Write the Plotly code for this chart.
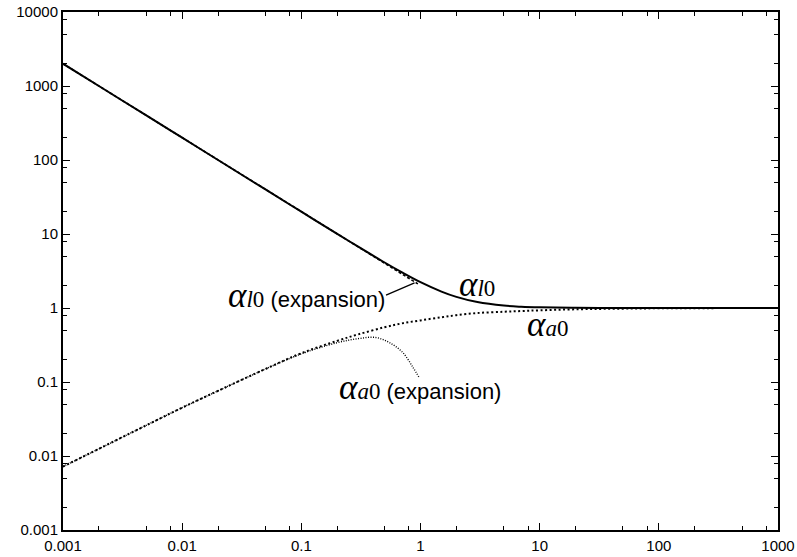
import plotly.graph_objects as go

# ---- data ----
x_main = [0.001, 0.002, 0.005, 0.01, 0.02, 0.05, 0.1, 0.2, 0.3, 0.5, 0.7, 1, 1.5, 2, 3, 5, 7, 10, 20, 50, 100, 1000]
alpha_l0 = [2000, 1000, 400, 200, 100, 40.0, 20.0, 10.05, 6.74, 4.12, 3.03, 2.236, 1.667, 1.414, 1.202, 1.077, 1.040, 1.020, 1.005, 1.001, 1.0002, 1.0]
alpha_a0 = [0.0072, 0.0125, 0.026, 0.045, 0.076, 0.15, 0.245, 0.36, 0.44, 0.55, 0.62, 0.68, 0.75, 0.80, 0.855, 0.89, 0.91, 0.93, 0.96, 0.98, 0.99, 1.0]

x_l0_exp = [0.001, 0.002, 0.005, 0.01, 0.02, 0.05, 0.1, 0.2, 0.3, 0.5, 0.7, 0.85, 0.95]
alpha_l0_exp = [2000, 1000, 400, 200, 100, 40.0, 20.0, 10.0, 6.68, 4.02, 2.88, 2.38, 2.12]

x_a0_exp = [0.001, 0.002, 0.005, 0.01, 0.02, 0.05, 0.1, 0.2, 0.3, 0.42, 0.55, 0.71, 0.86, 0.98]
alpha_a0_exp = [0.0072, 0.0125, 0.026, 0.045, 0.076, 0.15, 0.24, 0.34, 0.385, 0.40, 0.34, 0.25, 0.16, 0.113]

tick_vals = [0.001, 0.01, 0.1, 1, 10, 100, 1000]
tick_text = ["0.001", "0.01", "0.1", "1", "10", "100", "1000"]
ytick_vals = [0.001, 0.01, 0.1, 1, 10, 100, 1000, 10000]
ytick_text = ["0.001", "0.01", "0.1", "1", "10", "100", "1000", "10000"]
minor_x = [m * d for d in [0.001, 0.01, 0.1, 1, 10, 100] for m in (2, 5, 8)]
minor_y = [m * d for d in [0.001, 0.01, 0.1, 1, 10, 100, 1000] for m in (2, 5, 8)]

SERIF = "Liberation Serif"
SANS = "Liberation Sans"

def greek(sub, tail=""):
    s = (f"<span style='font-family:{SERIF};font-size:35px'><i>α</i></span>"
         f"<span style='font-family:{SERIF};font-size:23px'><i>{sub}</i>0</span>")
    if tail:
        s += f"<span style='font-family:{SANS};font-size:22px'> {tail}</span>"
    return s

fig = go.Figure()
fig.add_trace(go.Scatter(x=x_l0_exp, y=alpha_l0_exp, mode="lines",
                         line=dict(color="black", width=1.6, dash="3px,2px")))
fig.add_trace(go.Scatter(x=x_a0_exp, y=alpha_a0_exp, mode="lines", line_shape="spline",
                         line=dict(color="black", width=1.4, dash="1px,1.5px")))
fig.add_trace(go.Scatter(x=x_main, y=alpha_a0, mode="lines", line_shape="spline",
                         line=dict(color="black", width=2, dash="2px,2.5px")))
fig.add_trace(go.Scatter(x=x_main, y=alpha_l0, mode="lines", line_shape="spline",
                         line=dict(color="black", width=2)))

annots = [
    dict(x=-0.955, y=0.166, text=greek("l", "(expansion)")),
    dict(x=0.471, y=0.315, text=greek("l")),
    dict(x=1.067, y=-0.226, text=greek("a")),
    dict(x=-0.008, y=-1.077, text=greek("a", "(expansion)")),
]
for a in annots:
    fig.add_annotation(xref="x", yref="y", showarrow=False, font=dict(color="black"), **a)

# pointer from label to end of the alpha_l0 expansion curve
fig.add_annotation(xref="x", yref="y", x=-0.05, y=0.34, text=" ", font=dict(size=1),
                   showarrow=True, arrowhead=0, arrowwidth=1.3, arrowcolor="black",
                   ax=-30, ay=13, standoff=0, startstandoff=0)

axis_common = dict(type="log", showgrid=False, zeroline=False, showline=True,
                   linecolor="black", linewidth=2, mirror="allticks", automargin=False,
                   ticks="inside", ticklen=7, tickwidth=1, tickcolor="black",
                   tickfont=dict(family=SANS, size=15, color="black"))
fig.update_xaxes(range=[-3, 3], tickvals=tick_vals, ticktext=tick_text, ticklabelstandoff=1,
                 minor=dict(tickvals=minor_x, ticks="inside", ticklen=4, tickcolor="black", tickwidth=1),
                 **axis_common)
fig.update_yaxes(range=[-3, 4], tickvals=ytick_vals, ticktext=ytick_text,
                 minor=dict(tickvals=minor_y, ticks="inside", ticklen=4, tickcolor="black", tickwidth=1),
                 **axis_common)
fig.update_layout(width=797, height=557, margin=dict(l=63, r=19, t=12, b=27),
                  plot_bgcolor="white", paper_bgcolor="white", showlegend=False)

fig.write_html("out.html")
